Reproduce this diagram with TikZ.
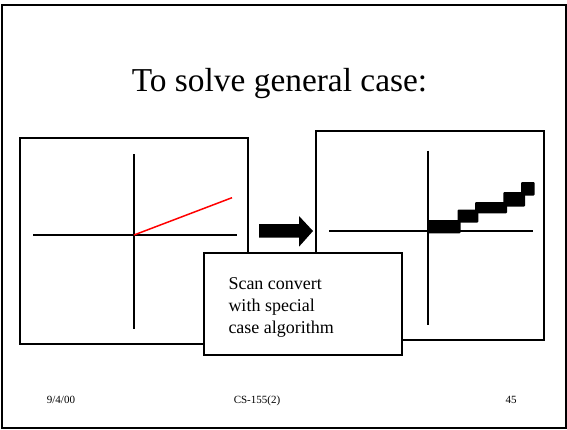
\documentclass[tikz,border=0pt]{standalone}
\usepackage{fontspec}
\setmainfont{Liberation Serif}
\begin{document}
\begin{tikzpicture}[x=1pt, y=-1pt,
  frame/.style={draw=black, line width=2pt},
  panel/.style={draw=black, line width=2pt, fill=white, inner sep=0pt, minimum width=#1},
  axis/.style={draw=black, line width=2pt},
  pix/.style={fill=black, rounded corners=1pt},
  footer/.style={font=\fontsize{11}{13}\selectfont, inner sep=0pt}]
  \useasboundingbox (0,0) rectangle (567,429);
  % slide frame
  \draw[frame] (2,5) rectangle (565.5,427.5);

  % title
  \node[anchor=base, inner sep=0pt, font=\fontsize{33.4}{38}\selectfont] (title) at (279.5,91.7) {To solve general case:};

  % left panel: continuous line
  \node[panel=228pt, minimum height=206.3pt] (left) at (134,240.85) {};
  \coordinate (lo) at (134,235);
  \draw[axis] (134,154) coordinate (lt) -- (134,329) coordinate (lb);
  \draw[axis] (33,235) coordinate (ll) -- (237,235) coordinate (lr);
  \coordinate (lend) at (232,197.7);
  \draw[red, line width=1.5pt] (lo) -- (lend);

  % right panel: rasterized line
  \node[panel=228pt, minimum height=209pt] (right) at (430,235.5) {};
  \draw[axis] (428,150.7) coordinate (rt) -- (428,325) coordinate (rb);
  \draw[axis] (329,230.7) coordinate (rl) -- (532.6,230.7) coordinate (rr);
  \fill[pix] (427.5,220) rectangle (460.5,233.3);
  \fill[pix] (457.5,209.5) rectangle (478.3,222.5);
  \fill[pix] (475,202) rectangle (507,213.3);
  \fill[pix] (503.3,192) rectangle (525,206.5);
  \fill[pix] (521,182) rectangle (534.5,195.5);

  % block arrow between the panels
  \fill[black] (259,224) -- (299,224) -- (299,216) -- (313,231)
    -- (299,246.7) -- (299,237.5) -- (259,237.5) -- cycle;

  % note box (text anchored at the baseline of its last line)
  \node[panel=198.3pt, minimum height=101.7pt] (note) at (303.15,304.15) {};
  \node[anchor=base west, inner sep=0pt, align=left,
        font=\fontsize{18}{22}\selectfont] (notetext) at (228.3,333.3)
        {Scan convert\\with special\\case algorithm};

  % footer
  \node[footer, anchor=base west] (date) at (46.7,403.5) {9/4/00};
  \node[footer, anchor=base] (course) at (257,403.5) {CS-155(2)};
  \node[footer, anchor=base east] (page) at (516.7,403.5) {45};
\end{tikzpicture}
\end{document}
